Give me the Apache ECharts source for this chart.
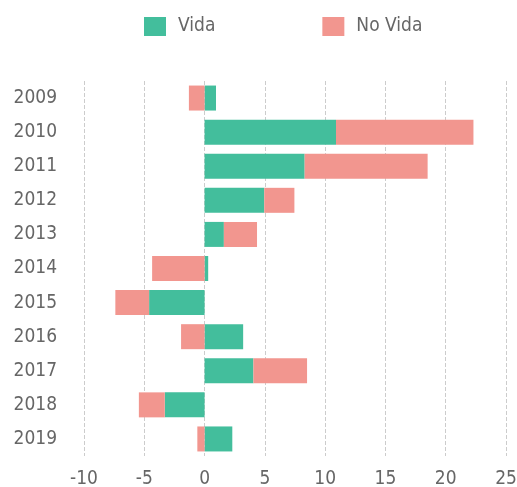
<!DOCTYPE html>
<html>
<head>
<meta charset="utf-8">
<script src="https://cdn.jsdelivr.net/npm/echarts@6/dist/echarts.min.js"></script>
<style>
html, body { margin: 0; padding: 0; background: #fff; }
#main { width: 517px; height: 487px; }
</style>
</head>
<body>
<div id="main"></div>
<script>
let years = ['2009', '2010', '2011', '2012', '2013', '2014', '2015', '2016', '2017', '2018', '2019'];
let vida = [0.95, 10.9, 8.3, 4.95, 1.6, 0.3, -4.6, 3.2, 4.05, -3.3, 2.3];
let noVida = [-1.3, 11.4, 10.2, 2.5, 2.75, -4.35, -2.8, -1.95, 4.45, -2.15, -0.6];
let xTicks = { min: -10, max: 25, step: 5 };

let chart = echarts.init(document.getElementById('main'));
let font = '"DejaVu Sans Condensed", sans-serif';

let option = {
	animation: false,
	legend: {
		left: 144,
		top: 17,
		padding: 0,
		itemWidth: 22,
		itemHeight: 19,
		itemGap: 107,
		icon: 'rect',
		textStyle: { fontFamily: font, fontSize: 19, color: '#666', padding: [0, 0, 0, 7] },
		data: ['Vida', 'No Vida']
	},
	grid: {
		left: 84,
		right: 11,
		top: 81,
		bottom: 31,
		containLabel: false,
		outerBoundsMode: 'none'
	},
	xAxis: {
		type: 'value',
		min: xTicks.min,
		max: xTicks.max,
		interval: xTicks.step,
		axisLine: { show: false },
		axisTick: { show: false },
		splitLine: { show: true, lineStyle: { type: 'dashed', color: '#ccc', width: 1 } },
		axisLabel: { fontFamily: font, fontSize: 19, color: '#666', margin: 14 }
	},
	yAxis: {
		type: 'category',
		inverse: true,
		data: years,
		axisLine: { show: false },
		axisTick: { show: false },
		axisLabel: { fontFamily: font, fontSize: 19, color: '#666', margin: 27 }
	},
	series: [
		{
			name: 'Vida',
			type: 'bar',
			stack: 'total',
			barWidth: 25,
			itemStyle: { color: '#43be9c' },
			data: vida
		},
		{
			name: 'No Vida',
			type: 'bar',
			stack: 'total',
			barWidth: 25,
			itemStyle: { color: '#f2968f' },
			data: noVida
		}
	]
};
chart.setOption(option);
</script>
</body>
</html>
